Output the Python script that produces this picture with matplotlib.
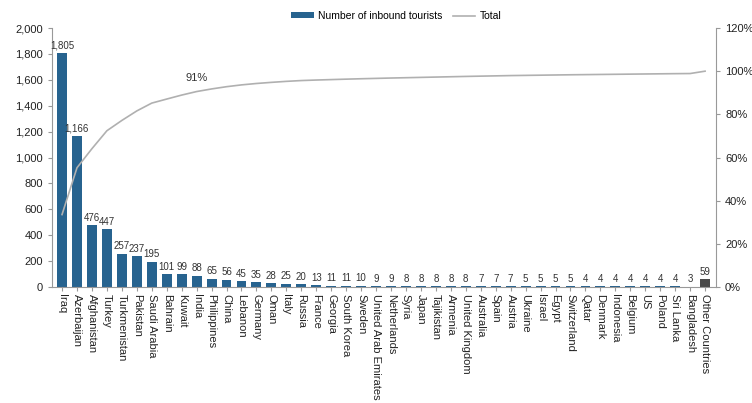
import numpy as np
import matplotlib.pyplot as plt
from matplotlib.ticker import FuncFormatter

plt.rcParams['font.family'] = ['Liberation Sans', 'DejaVu Sans']

countries = ['Iraq', 'Azerbaijan', 'Afghanistan', 'Turkey', 'Turkmenistan', 'Pakistan',
             'Saudi Arabia', 'Bahrain', 'Kuwait', 'India', 'Philippines', 'China', 'Lebanon',
             'Germany', 'Oman', 'Italy', 'Russia', 'France', 'Georgia', 'South Korea', 'Sweden',
             'United Arab Emirates', 'Netherlands', 'Syria', 'Japan', 'Tajikistan', 'Armenia',
             'United Kingdom', 'Australia', 'Spain', 'Austria', 'Ukraine', 'Israel', 'Egypt',
             'Switzerland', 'Qatar', 'Denmark', 'Indonesia', 'Belgium', 'US', 'Poland',
             'Sri Lanka', 'Bangladesh', 'Other Countries']
tourists = [1805, 1166, 476, 447, 257, 237, 195, 101, 99, 88, 65, 56, 45, 35, 28, 25, 20, 13,
            11, 11, 10, 9, 9, 8, 8, 8, 8, 8, 7, 7, 7, 5, 5, 5, 5, 4, 4, 4, 4, 4, 4, 4, 3, 59]

vals = np.array(tourists)
cum_pct = np.cumsum(vals) / vals.sum() * 100
x = np.arange(len(countries))

fig = plt.figure(figsize=(7.52, 4.03), dpi=100)
ax = fig.add_axes([52 / 752, 1 - 287 / 403, (716 - 52) / 752, (287 - 28) / 403])

colors = ['#27638f'] * (len(countries) - 1) + ['#4a4a4a']
ax.bar(x, vals, width=0.66, color=colors, label='Number of inbound tourists', zorder=2)
for xi, v in zip(x, vals):
    ax.text(xi, v + 18, f'{v:,}', ha='center', va='bottom', fontsize=7, color='#333333')

ax.set_xlim(-0.67, len(countries) - 1 + 0.73)
ax.set_ylim(0, 2000)
ax.set_yticks(range(0, 2001, 200))
ax.yaxis.set_major_formatter(FuncFormatter(lambda v, p: f'{int(v):,}'))
ax.set_xticks(x)
ax.set_xticklabels(countries, rotation=-90, fontsize=8, color='#222222')
ax.tick_params(axis='x', length=3, pad=2, color='#999999')
ax.tick_params(axis='y', labelsize=8, length=3, color='#999999', labelcolor='#222222')
for s in ['left', 'bottom']:
    ax.spines[s].set_color('#999999')
ax.spines['top'].set_visible(False)
ax.spines['right'].set_visible(False)

# cumulative share on the right axis
ax2 = ax.twinx()
ax2.plot(x, cum_pct, color='#b0b0b0', lw=1.2, label='Total', zorder=3)
ax2.set_ylim(0, 120)
ax2.set_yticks(range(0, 121, 20))
ax2.yaxis.set_major_formatter(FuncFormatter(lambda v, p: f'{int(v)}%'))
ax2.tick_params(axis='y', labelsize=8, length=3, color='#999999', labelcolor='#222222')
ax2.spines['right'].set_color('#999999')
ax2.spines['top'].set_visible(False)
ax2.spines['left'].set_visible(False)
ax2.spines['bottom'].set_visible(False)

i91 = 9
ax2.text(x[i91], cum_pct[i91] + 4, f'{cum_pct[i91]:.0f}%', ha='center', va='bottom',
         fontsize=8, color='#333333')

h1, l1 = ax.get_legend_handles_labels()
h2, l2 = ax2.get_legend_handles_labels()
fig.legend(h1 + h2, l1 + l2, loc='center', bbox_to_anchor=(396 / 752, 1 - 16 / 403),
           ncol=2, frameon=False, fontsize=7.5, handlelength=2.2, columnspacing=1.0,
           handletextpad=0.4, handleheight=0.5)

fig.savefig('out.png', dpi=100)
